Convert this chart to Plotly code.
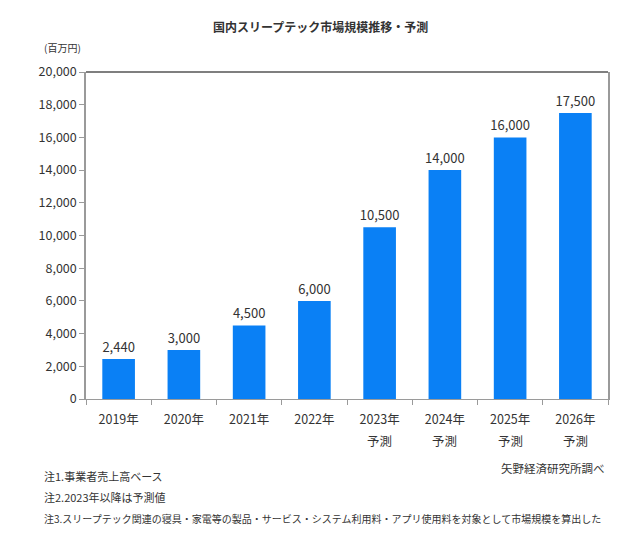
import plotly.graph_objects as go

years = ["2019年", "2020年", "2021年", "2022年", "2023年", "2024年", "2025年", "2026年"]
forecast = [False, False, False, False, True, True, True, True]
forecast_label = "予測"
values = [2440, 3000, 4500, 6000, 10500, 14000, 16000, 17500]
value_labels = ["2,440", "3,000", "4,500", "6,000", "10,500", "14,000", "16,000", "17,500"]
y_ticks = list(range(0, 20001, 2000))
y_tick_labels = [f"{v:,}" for v in y_ticks]

title = "国内スリープテック市場規模推移・予測"
unit = "(百万円)"
source = "矢野経済研究所調べ"
notes = [
    "注1.事業者売上高ベース",
    "注2.2023年以降は予測値",
    "注3.スリープテック関連の寝具・家電等の製品・サービス・システム利用料・アプリ使用料を対象として市場規模を算出した",
]

FONT = "Noto Sans CJK JP"
AXIS = "#9a9a9a"
TXT = "#333333"
W, H = 640, 537
ML, MR, MT, MB = 86, 32, 72, 138

fig = go.Figure(go.Bar(
    x=years, y=values, text=value_labels, textposition="outside",
    textfont=dict(size=13, color=TXT, family=FONT),
    marker=dict(color="#0A80F5", line=dict(width=0)),
    width=0.5, cliponaxis=False, constraintext="none", hoverinfo="skip",
))

fig.update_layout(
    width=W, height=H,
    margin=dict(l=ML, r=MR, t=MT, b=MB, autoexpand=False),
    paper_bgcolor="white", plot_bgcolor="white",
    font=dict(family=FONT, size=12, color=TXT),
    showlegend=False,
)
fig.update_xaxes(
    showline=True, linecolor=AXIS, linewidth=1, mirror=False,
    ticks="outside", tickson="boundaries", ticklen=5, tickcolor=AXIS,
    tickfont=dict(size=12.5, color=TXT), showgrid=False, automargin=False,
    ticklabelstandoff=9,
)
fig.update_yaxes(
    range=[0, 20000], tickvals=y_ticks, ticktext=y_tick_labels,
    showline=True, linecolor=AXIS, linewidth=1.5, mirror=True,
    ticks="outside", ticklen=5, tickcolor=AXIS, showgrid=False, zeroline=False,
    tickfont=dict(size=12.5, color=TXT), automargin=False,
)
fig.add_shape(type="line", xref="paper", yref="paper", x0=0, x1=1, y0=1, y1=1,
              line=dict(color="#555555", width=1.5))

def py(ypix):
    return (H - MB - ypix) / (H - MT - MB)

for yr, f in zip(years, forecast):
    if f:
        fig.add_annotation(text=forecast_label, x=yr, xref="x", y=py(440), yref="paper",
                           yanchor="middle", showarrow=False,
                           font=dict(size=12.5, color=TXT))

anns = [
    dict(text="<b>" + title + "</b>", x=320, y=26, xanchor="center", size=12),
    dict(text=unit, x=42, y=47, xanchor="left", size=10),
    dict(text=source, x=607, y=468, xanchor="right", size=11.5),
    dict(text=notes[0], x=42, y=476, xanchor="left", size=11),
    dict(text=notes[1], x=42, y=497, xanchor="left", size=11),
    dict(text=notes[2], x=42, y=518, xanchor="left", size=10),
]
for a in anns:
    fig.add_annotation(
        text=a["text"], xref="paper", yref="paper",
        x=(a["x"] - ML) / (W - ML - MR), y=py(a["y"]),
        xanchor=a["xanchor"], yanchor="middle", showarrow=False,
        font=dict(size=a["size"], color=TXT),
    )

fig.write_html("out.html", config={"displayModeBar": False},
               post_script="document.body.style.margin='0';document.body.style.overflow='hidden';")
